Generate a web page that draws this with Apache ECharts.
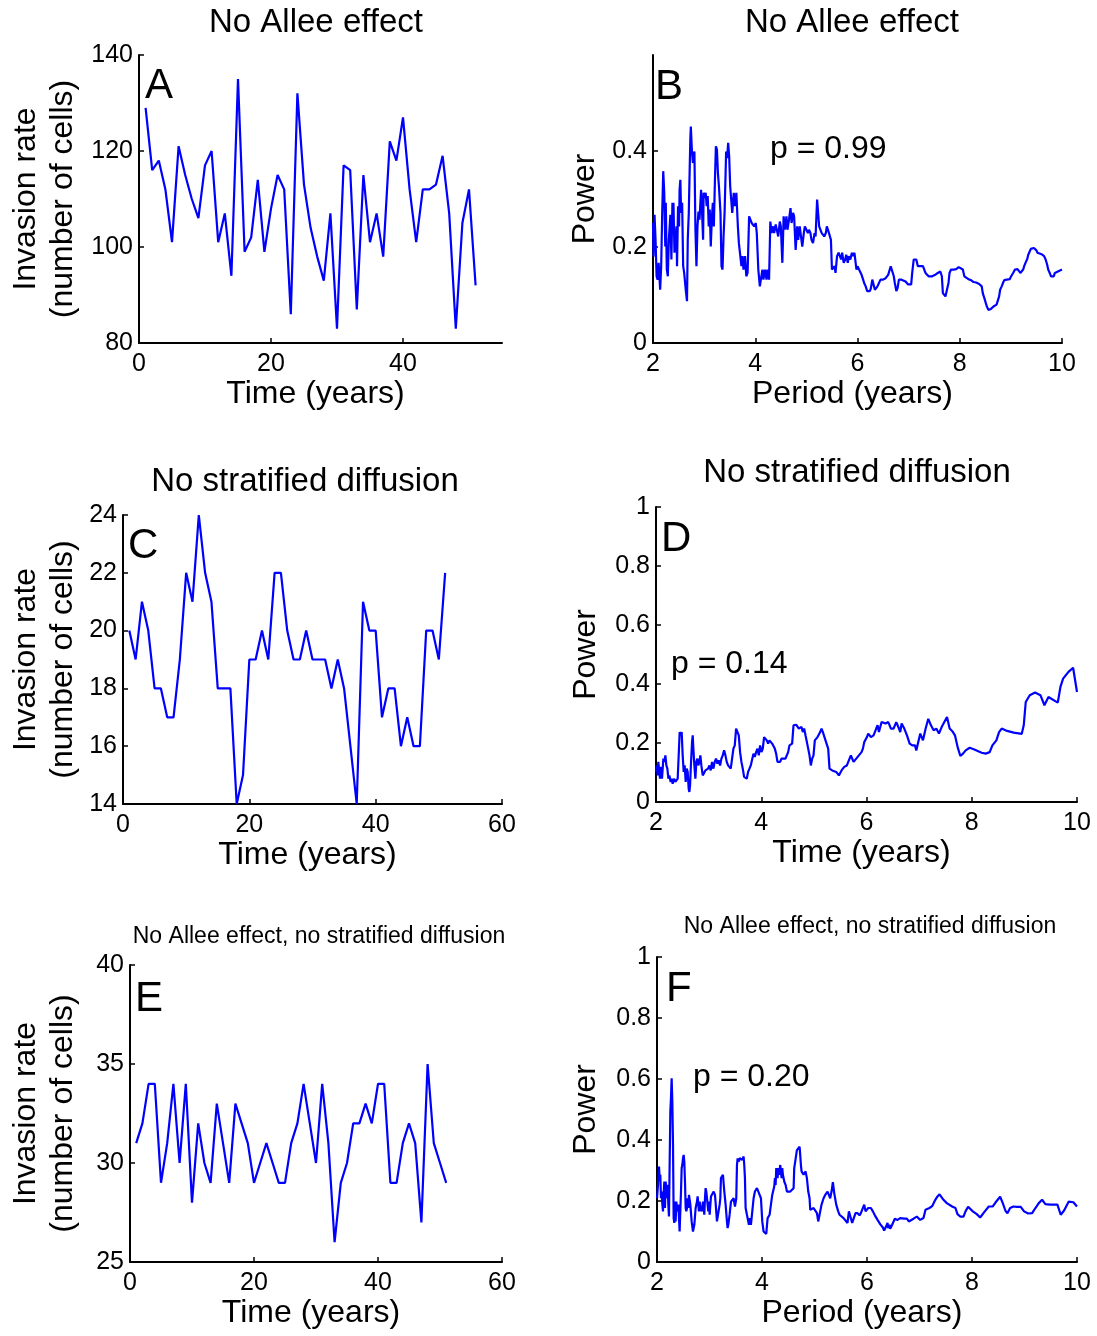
<!DOCTYPE html>
<html><head><meta charset="utf-8">
<script src="https://cdn.jsdelivr.net/npm/echarts@6/dist/echarts.min.js"></script>
<style>html,body{margin:0;padding:0;background:#fff}#c{width:1097px;height:1336px}</style>
</head><body><div id="c"></div>
<script>
// ---------- data ----------
const years = [1,2,3,4,5,6,7,8,9,10,11,12,13,14,15,16,17,18,19,20,21,22,23,24,25,26,27,28,29,30,31,32,33,34,35,36,37,38,39,40,41,42,43,44,45,46,47,48,49,50,51];
const rateA = [129,116,118,112,101,121,115,110,106,117,120,101,107,94,135,99,102,114,99,108,115,112,86,132,113,104,98,93,107,83,117,116,87,115,101,107,98,122,118,127,112,101,112,112,113,119,107,83,105,112,92];
const rateC = [20,19,21,20,18,18,17,17,19,22,21,24,22,21,18,18,18,14,15,19,19,20,19,22,22,20,19,19,20,19,19,19,18,19,18,16,14,21,20,20,17,18,18,16,17,16,16,20,20,19,22];
const rateE = [31,32,34,34,29,31,34,30,34,28,32,30,29,33,31,29,33,32,31,29,30,31,30,29,29,31,32,34,32,30,34,31,26,29,30,32,32,33,32,34,34,29,29,31,32,31,27,35,31,30,29];

// [period (years), power]
const spectrumB = [[2.00,0.25],[2.01,0.18],[2.03,0.267],[2.05,0.215],[2.07,0.139],[2.09,0.132],[2.11,0.167],[2.14,0.111],[2.16,0.16],[2.18,0.271],[2.20,0.358],[2.21,0.358],[2.22,0.313],[2.24,0.201],[2.25,0.292],[2.27,0.153],[2.29,0.139],[2.31,0.215],[2.34,0.267],[2.36,0.174],[2.38,0.292],[2.39,0.243],[2.40,0.292],[2.42,0.188],[2.44,0.215],[2.46,0.243],[2.47,0.16],[2.49,0.285],[2.51,0.243],[2.52,0.319],[2.535,0.34],[2.55,0.271],[2.57,0.292],[2.59,0.16],[2.61,0.146],[2.64,0.111],[2.665,0.087],[2.68,0.215],[2.70,0.271],[2.72,0.375],[2.73,0.424],[2.74,0.451],[2.76,0.403],[2.78,0.375],[2.81,0.399],[2.83,0.236],[2.85,0.16],[2.87,0.243],[2.89,0.274],[2.91,0.257],[2.94,0.319],[2.96,0.271],[2.98,0.215],[2.99,0.313],[3.01,0.302],[3.03,0.313],[3.05,0.285],[3.07,0.306],[3.09,0.243],[3.11,0.278],[3.13,0.201],[3.15,0.257],[3.17,0.292],[3.19,0.243],[3.21,0.333],[3.23,0.41],[3.25,0.403],[3.27,0.354],[3.29,0.326],[3.32,0.271],[3.34,0.16],[3.36,0.153],[3.38,0.222],[3.40,0.271],[3.42,0.354],[3.43,0.399],[3.45,0.385],[3.47,0.417],[3.49,0.389],[3.51,0.326],[3.53,0.326],[3.55,0.271],[3.58,0.313],[3.60,0.285],[3.63,0.313],[3.66,0.243],[3.68,0.208],[3.71,0.208],[3.73,0.16],[3.75,0.181],[3.77,0.153],[3.80,0.181],[3.825,0.139],[3.85,0.146],[3.88,0.264],[3.90,0.264],[3.93,0.25],[3.96,0.253],[3.98,0.243],[4.01,0.25],[4.03,0.229],[4.06,0.153],[4.09,0.118],[4.11,0.115],[4.14,0.153],[4.16,0.132],[4.19,0.153],[4.22,0.132],[4.24,0.153],[4.27,0.132],[4.295,0.253],[4.32,0.229],[4.35,0.243],[4.37,0.229],[4.40,0.247],[4.43,0.243],[4.45,0.222],[4.48,0.253],[4.50,0.243],[4.53,0.167],[4.555,0.264],[4.58,0.236],[4.61,0.264],[4.63,0.236],[4.66,0.257],[4.69,0.281],[4.71,0.25],[4.74,0.271],[4.76,0.264],[4.79,0.194],[4.82,0.243],[4.84,0.215],[4.87,0.243],[4.90,0.243],[4.92,0.201],[4.95,0.229],[4.97,0.243],[5.00,0.243],[5.03,0.229],[5.05,0.236],[5.08,0.229],[5.10,0.215],[5.13,0.208],[5.16,0.229],[5.18,0.222],[5.21,0.299],[5.23,0.299],[5.25,0.243],[5.27,0.243],[5.30,0.229],[5.33,0.229],[5.35,0.222],[5.38,0.229],[5.40,0.243],[5.43,0.233],[5.46,0.229],[5.48,0.215],[5.50,0.153],[5.52,0.153],[5.55,0.16],[5.57,0.146],[5.60,0.181],[5.63,0.188],[5.65,0.191],[5.68,0.174],[5.70,0.188],[5.73,0.167],[5.76,0.174],[5.78,0.184],[5.81,0.167],[5.83,0.181],[5.86,0.174],[5.89,0.188],[5.91,0.181],[5.94,0.188],[5.96,0.191],[5.98,0.153],[6.00,0.16],[6.03,0.153],[6.06,0.153],[6.08,0.142],[6.11,0.132],[6.13,0.125],[6.16,0.118],[6.19,0.108],[6.21,0.111],[6.24,0.108],[6.26,0.113],[6.29,0.132],[6.32,0.132],[6.34,0.111],[6.37,0.108],[6.39,0.118],[6.42,0.125],[6.45,0.132],[6.50,0.132],[6.55,0.135],[6.60,0.142],[6.63,0.146],[6.65,0.16],[6.68,0.16],[6.71,0.139],[6.73,0.125],[6.76,0.108],[6.785,0.115],[6.81,0.132],[6.86,0.132],[6.89,0.132],[6.94,0.128],[6.99,0.122],[7.02,0.118],[7.05,0.122],[7.07,0.146],[7.10,0.174],[7.12,0.177],[7.15,0.174],[7.18,0.16],[7.23,0.16],[7.28,0.16],[7.33,0.146],[7.39,0.139],[7.46,0.139],[7.52,0.142],[7.57,0.146],[7.62,0.149],[7.65,0.139],[7.67,0.104],[7.70,0.101],[7.72,0.097],[7.75,0.097],[7.78,0.125],[7.80,0.146],[7.83,0.153],[7.88,0.153],[7.93,0.154],[7.98,0.158],[8.01,0.16],[8.06,0.153],[8.09,0.139],[8.12,0.135],[8.17,0.133],[8.22,0.131],[8.27,0.127],[8.32,0.126],[8.38,0.123],[8.40,0.125],[8.43,0.118],[8.45,0.104],[8.48,0.094],[8.51,0.083],[8.53,0.076],[8.56,0.069],[8.585,0.068],[8.61,0.071],[8.66,0.076],[8.72,0.08],[8.74,0.083],[8.77,0.097],[8.79,0.111],[8.82,0.118],[8.85,0.126],[8.87,0.131],[8.92,0.132],[8.98,0.133],[9.00,0.138],[9.05,0.147],[9.08,0.153],[9.13,0.154],[9.16,0.153],[9.185,0.146],[9.21,0.147],[9.24,0.153],[9.26,0.16],[9.29,0.168],[9.32,0.175],[9.34,0.184],[9.37,0.191],[9.39,0.196],[9.42,0.198],[9.45,0.198],[9.50,0.193],[9.52,0.188],[9.55,0.186],[9.60,0.185],[9.65,0.181],[9.68,0.174],[9.71,0.163],[9.73,0.153],[9.76,0.146],[9.785,0.139],[9.81,0.138],[9.84,0.139],[9.86,0.146],[9.89,0.147],[9.94,0.15],[10.0,0.153]];

const spectrumD = [[2.000,0.102],[2.013,0.124],[2.032,0.090],[2.044,0.136],[2.063,0.102],[2.076,0.079],[2.095,0.119],[2.114,0.079],[2.140,0.147],[2.159,0.136],[2.178,0.158],[2.197,0.124],[2.216,0.113],[2.235,0.079],[2.254,0.090],[2.279,0.068],[2.298,0.079],[2.317,0.062],[2.342,0.079],[2.368,0.068],[2.393,0.068],[2.412,0.079],[2.431,0.158],[2.450,0.237],[2.469,0.226],[2.488,0.237],[2.507,0.158],[2.526,0.102],[2.545,0.124],[2.564,0.068],[2.583,0.113],[2.602,0.102],[2.621,0.045],[2.634,0.034],[2.647,0.056],[2.666,0.136],[2.685,0.203],[2.698,0.226],[2.710,0.181],[2.729,0.124],[2.748,0.079],[2.767,0.136],[2.786,0.147],[2.805,0.124],[2.824,0.136],[2.843,0.158],[2.862,0.124],[2.888,0.090],[2.913,0.090],[2.938,0.107],[2.964,0.102],[2.989,0.113],[3.015,0.124],[3.040,0.107],[3.065,0.136],[3.091,0.113],[3.116,0.136],[3.141,0.147],[3.167,0.130],[3.192,0.141],[3.218,0.124],[3.243,0.147],[3.268,0.158],[3.294,0.175],[3.319,0.158],[3.344,0.136],[3.370,0.124],[3.395,0.119],[3.420,0.113],[3.446,0.147],[3.471,0.181],[3.497,0.192],[3.522,0.249],[3.547,0.254],[3.573,0.226],[3.598,0.169],[3.623,0.136],[3.649,0.113],[3.674,0.085],[3.699,0.079],[3.725,0.079],[3.750,0.102],[3.776,0.113],[3.801,0.124],[3.826,0.130],[3.852,0.164],[3.877,0.153],[3.902,0.169],[3.928,0.181],[3.953,0.158],[3.978,0.192],[4.004,0.169],[4.029,0.181],[4.054,0.220],[4.080,0.226],[4.105,0.209],[4.131,0.198],[4.156,0.209],[4.181,0.203],[4.207,0.198],[4.232,0.203],[4.257,0.181],[4.283,0.164],[4.308,0.136],[4.333,0.130],[4.359,0.136],[4.384,0.147],[4.410,0.153],[4.460,0.147],[4.486,0.147],[4.511,0.169],[4.536,0.192],[4.587,0.198],[4.613,0.260],[4.663,0.262],[4.689,0.266],[4.714,0.249],[4.739,0.243],[4.765,0.254],[4.790,0.237],[4.815,0.249],[4.841,0.226],[4.866,0.226],[4.892,0.181],[4.917,0.158],[4.942,0.124],[4.968,0.147],[4.993,0.158],[5.018,0.209],[5.069,0.220],[5.120,0.237],[5.145,0.249],[5.171,0.237],[5.221,0.209],[5.272,0.181],[5.297,0.113],[5.348,0.107],[5.424,0.102],[5.450,0.096],[5.475,0.090],[5.526,0.107],[5.577,0.119],[5.627,0.124],[5.678,0.147],[5.703,0.158],[5.754,0.136],[5.805,0.147],[5.855,0.158],[5.906,0.169],[5.932,0.181],[5.957,0.203],[6.008,0.220],[6.033,0.232],[6.084,0.220],[6.134,0.226],[6.185,0.249],[6.211,0.260],[6.236,0.237],[6.287,0.271],[6.363,0.266],[6.414,0.271],[6.464,0.249],[6.515,0.249],[6.566,0.271],[6.617,0.249],[6.642,0.237],[6.667,0.266],[6.718,0.249],[6.769,0.226],[6.820,0.198],[6.870,0.192],[6.921,0.192],[6.946,0.175],[6.972,0.181],[7.022,0.232],[7.073,0.209],[7.124,0.249],[7.174,0.282],[7.225,0.260],[7.276,0.243],[7.326,0.249],[7.377,0.232],[7.428,0.254],[7.479,0.271],[7.530,0.288],[7.580,0.249],[7.631,0.240],[7.681,0.226],[7.732,0.186],[7.783,0.156],[7.834,0.164],[7.884,0.175],[7.961,0.184],[8.037,0.179],[8.113,0.173],[8.189,0.167],[8.265,0.164],[8.341,0.169],[8.392,0.192],[8.468,0.209],[8.519,0.237],[8.569,0.249],[8.671,0.241],[8.798,0.235],[8.950,0.231],[8.988,0.260],[9.026,0.339],[9.102,0.362],[9.203,0.371],[9.305,0.362],[9.381,0.328],[9.457,0.356],[9.635,0.337],[9.685,0.390],[9.736,0.418],[9.838,0.441],[9.926,0.455],[10.0,0.373]];

const spectrumF = [[2.000,0.209],[2.019,0.253],[2.038,0.313],[2.051,0.275],[2.063,0.286],[2.076,0.209],[2.089,0.231],[2.102,0.188],[2.114,0.166],[2.127,0.226],[2.140,0.264],[2.152,0.177],[2.165,0.264],[2.178,0.231],[2.190,0.209],[2.203,0.253],[2.216,0.188],[2.228,0.149],[2.241,0.144],[2.254,0.493],[2.266,0.537],[2.279,0.602],[2.292,0.526],[2.305,0.384],[2.317,0.144],[2.330,0.128],[2.343,0.198],[2.355,0.133],[2.368,0.198],[2.381,0.177],[2.393,0.166],[2.406,0.188],[2.419,0.144],[2.431,0.100],[2.444,0.100],[2.457,0.231],[2.470,0.308],[2.482,0.318],[2.495,0.340],[2.508,0.351],[2.520,0.329],[2.533,0.264],[2.546,0.177],[2.558,0.166],[2.571,0.177],[2.584,0.209],[2.596,0.177],[2.609,0.220],[2.635,0.188],[2.660,0.133],[2.685,0.100],[2.711,0.122],[2.736,0.177],[2.761,0.198],[2.774,0.215],[2.787,0.188],[2.799,0.166],[2.812,0.198],[2.825,0.177],[2.850,0.166],[2.876,0.198],[2.901,0.155],[2.914,0.209],[2.926,0.242],[2.939,0.231],[2.964,0.188],[2.977,0.166],[2.990,0.198],[3.003,0.155],[3.028,0.215],[3.053,0.209],[3.079,0.231],[3.104,0.220],[3.117,0.193],[3.129,0.198],[3.142,0.133],[3.168,0.133],[3.193,0.188],[3.206,0.209],[3.218,0.275],[3.231,0.275],[3.256,0.286],[3.282,0.231],[3.307,0.188],[3.332,0.133],[3.345,0.111],[3.358,0.122],[3.383,0.155],[3.409,0.198],[3.434,0.198],[3.459,0.209],[3.485,0.182],[3.510,0.209],[3.523,0.318],[3.536,0.340],[3.561,0.329],[3.574,0.340],[3.599,0.340],[3.624,0.335],[3.650,0.346],[3.662,0.318],[3.675,0.275],[3.688,0.177],[3.713,0.155],[3.751,0.122],[3.764,0.144],[3.789,0.122],[3.815,0.166],[3.840,0.209],[3.865,0.231],[3.904,0.242],[3.942,0.226],[3.980,0.209],[4.005,0.133],[4.030,0.100],[4.081,0.092],[4.107,0.144],[4.145,0.155],[4.170,0.188],[4.195,0.220],[4.234,0.248],[4.246,0.275],[4.259,0.253],[4.272,0.308],[4.284,0.313],[4.297,0.275],[4.310,0.308],[4.322,0.286],[4.348,0.318],[4.373,0.275],[4.386,0.308],[4.398,0.286],[4.424,0.264],[4.449,0.253],[4.475,0.231],[4.500,0.226],[4.538,0.231],[4.576,0.231],[4.602,0.242],[4.614,0.308],[4.640,0.308],[4.665,0.367],[4.678,0.373],[4.716,0.378],[4.728,0.351],[4.741,0.318],[4.754,0.297],[4.779,0.297],[4.792,0.286],[4.817,0.286],[4.830,0.297],[4.855,0.275],[4.881,0.231],[4.906,0.209],[4.919,0.171],[4.957,0.171],[4.982,0.177],[5.020,0.177],[5.046,0.160],[5.071,0.133],[5.096,0.155],[5.134,0.188],[5.173,0.209],[5.211,0.222],[5.249,0.231],[5.287,0.226],[5.299,0.209],[5.325,0.231],[5.350,0.262],[5.376,0.226],[5.414,0.188],[5.452,0.166],[5.477,0.155],[5.515,0.160],[5.553,0.144],[5.591,0.144],[5.629,0.128],[5.655,0.166],[5.680,0.166],[5.718,0.128],[5.744,0.133],[5.781,0.160],[5.820,0.160],[5.858,0.153],[5.883,0.160],[5.921,0.166],[5.947,0.188],[5.972,0.166],[5.997,0.166],[6.023,0.177],[6.074,0.177],[6.112,0.166],[6.150,0.153],[6.201,0.138],[6.251,0.124],[6.302,0.113],[6.327,0.103],[6.365,0.117],[6.391,0.128],[6.404,0.111],[6.429,0.122],[6.442,0.109],[6.480,0.122],[6.530,0.142],[6.581,0.138],[6.632,0.144],[6.708,0.142],[6.759,0.142],[6.797,0.133],[6.822,0.131],[6.886,0.142],[6.949,0.149],[7.013,0.138],[7.076,0.144],[7.114,0.171],[7.190,0.177],[7.241,0.183],[7.292,0.201],[7.343,0.215],[7.381,0.222],[7.406,0.222],[7.457,0.204],[7.520,0.193],[7.622,0.182],[7.685,0.177],[7.723,0.157],[7.774,0.149],[7.838,0.149],[7.876,0.166],[7.926,0.181],[7.964,0.181],[8.015,0.166],[8.091,0.157],[8.155,0.146],[8.193,0.149],[8.244,0.166],[8.320,0.182],[8.358,0.182],[8.396,0.182],[8.447,0.195],[8.485,0.198],[8.536,0.214],[8.586,0.193],[8.637,0.168],[8.675,0.160],[8.726,0.177],[8.789,0.182],[8.853,0.181],[8.929,0.181],[8.992,0.166],[9.069,0.159],[9.145,0.160],[9.208,0.177],[9.272,0.193],[9.335,0.204],[9.398,0.190],[9.487,0.188],[9.627,0.188],[9.690,0.155],[9.754,0.169],[9.843,0.198],[9.931,0.196],[10.0,0.182]];

// tick labels
const timeTicksA = [0, 20, 40];
const timeTicks = [0, 20, 40, 60];
const periodTicks = [2, 4, 6, 8, 10];
const powerTicksB = [0, 0.2, 0.4];
const powerTicks = [0, 0.2, 0.4, 0.6, 0.8, 1];
const rateTicksA = [80, 100, 120, 140];
const rateTicksC = [14, 16, 18, 20, 22, 24];
const rateTicksE = [25, 30, 35, 40];

// ---------- chart ----------
const FONT = "'Liberation Sans', Arial, Helvetica, sans-serif";
const BLACK = '#000000';
const BLUE = '#0000ff';

function xAxis(gi, min, max, ticks, name) {
  return {
    type: 'value', gridIndex: gi, min: min, max: max,
    name: name, nameLocation: 'middle', nameGap: 34,
    nameTextStyle: { fontSize: 32, fontFamily: FONT, color: BLACK, padding: [0, 10, 0, 0] },
    axisLine: { show: true, onZero: false, lineStyle: { color: BLACK, width: 2 } },
    axisTick: { show: true, inside: true, length: 5, lineStyle: { color: BLACK, width: 1.5 }, customValues: ticks },
    axisLabel: { show: true, fontSize: 25, fontFamily: FONT, color: BLACK, margin: 9, customValues: ticks },
    splitLine: { show: false }
  };
}
function yAxis(gi, min, max, ticks, name, gap) {
  return {
    type: 'value', gridIndex: gi, min: min, max: max,
    name: name, nameLocation: 'middle', nameGap: gap, nameRotate: 90,
    nameTextStyle: { fontSize: 32, fontFamily: FONT, color: BLACK, lineHeight: 37 },
    axisLine: { show: true, onZero: false, lineStyle: { color: BLACK, width: 2 } },
    axisTick: { show: true, inside: true, length: 5, lineStyle: { color: BLACK, width: 1.5 }, customValues: ticks },
    axisLabel: { show: true, fontSize: 25, fontFamily: FONT, color: BLACK, margin: 6, customValues: ticks },
    splitLine: { show: false }
  };
}
function lineSeries(i, data) {
  return {
    type: 'line', xAxisIndex: i, yAxisIndex: i, data: data,
    showSymbol: false, symbol: 'none', silent: true, animation: false,
    lineStyle: { color: BLUE, width: 2.2 }, itemStyle: { color: BLUE }
  };
}
function txt(x, y, text, size, align) {
  return { type: 'text', x: x, y: y, silent: true,
    style: { text: text, fontSize: size, fontFamily: FONT, fill: BLACK,
      textAlign: align || 'left', textVerticalAlign: 'top' } };
}

const rateName = 'Invasion rate\n(number of cells)';
const option = {
  backgroundColor: '#ffffff',
  animation: false,
  grid: [
    { left: 139, top: 55, width: 363, height: 288 },
    { left: 653, top: 55, width: 409, height: 288 },
    { left: 123, top: 515, width: 379, height: 289 },
    { left: 656, top: 507, width: 421, height: 295 },
    { left: 130, top: 965, width: 372, height: 297 },
    { left: 657, top: 957, width: 420, height: 305 }
  ],
  xAxis: [
    xAxis(0, 0, 55, timeTicksA, 'Time (years)'),
    xAxis(1, 2, 10, periodTicks, 'Period (years)'),
    xAxis(2, 0, 60, timeTicks, 'Time (years)'),
    xAxis(3, 2, 10, periodTicks, 'Time (years)'),
    xAxis(4, 0, 60, timeTicks, 'Time (years)'),
    xAxis(5, 2, 10, periodTicks, 'Period (years)')
  ],
  yAxis: [
    yAxis(0, 80, 140, rateTicksA, rateName, 57),
    yAxis(1, 0, 0.6, powerTicksB, 'Power', 49),
    yAxis(2, 14, 24, rateTicksC, rateName, 41),
    yAxis(3, 0, 1, powerTicks, 'Power', 51),
    yAxis(4, 25, 40, rateTicksE, rateName, 48),
    yAxis(5, 0, 1, powerTicks, 'Power', 52)
  ],
  series: [
    lineSeries(0, years.map((t, i) => [t, rateA[i]])),
    lineSeries(1, spectrumB),
    lineSeries(2, years.map((t, i) => [t, rateC[i]])),
    lineSeries(3, spectrumD),
    lineSeries(4, years.map((t, i) => [t, rateE[i]])),
    lineSeries(5, spectrumF)
  ],
  graphic: [
    txt(316, 6, 'No Allee effect', 33, 'center'),
    txt(852, 6, 'No Allee effect', 33, 'center'),
    txt(305, 465, 'No stratified diffusion', 33, 'center'),
    txt(857, 456, 'No stratified diffusion', 33, 'center'),
    txt(319, 925, 'No Allee effect, no stratified diffusion', 23, 'center'),
    txt(870, 915, 'No Allee effect, no stratified diffusion', 23, 'center'),
    txt(145, 65, 'A', 42),
    txt(655, 66, 'B', 42),
    txt(128, 525, 'C', 42),
    txt(661, 518, 'D', 42),
    txt(135, 978, 'E', 42),
    txt(666, 968, 'F', 42),
    txt(770, 133, 'p = 0.99', 32),
    txt(671, 648, 'p = 0.14', 32),
    txt(693, 1061, 'p = 0.20', 32)
  ]
};
const chart = echarts.init(document.getElementById('c'), null, { renderer: 'canvas', width: 1097, height: 1336 });
chart.setOption(option);
</script>
</body></html>
